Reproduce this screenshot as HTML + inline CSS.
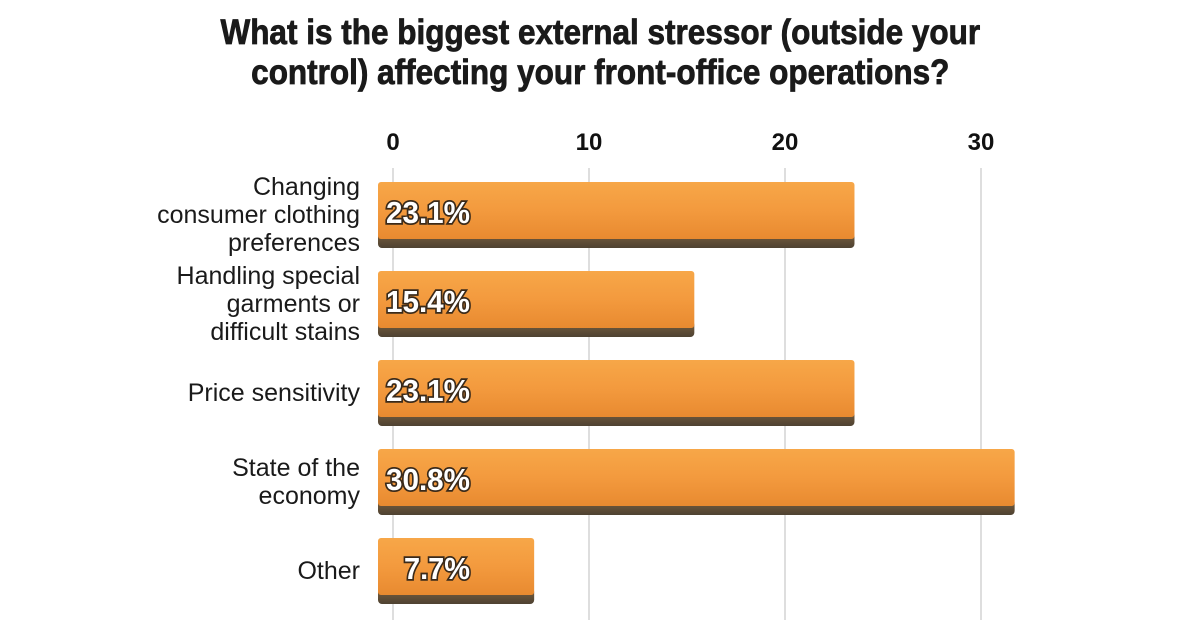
<!DOCTYPE html>
<html><head><meta charset="utf-8"><style>
body{margin:0;background:#fff;width:1200px;height:628px;overflow:hidden;position:relative;font-family:"Liberation Sans",sans-serif}
.title{position:absolute;left:0;width:1200px;top:13px;text-align:center;font-family:"Liberation Sans",sans-serif;font-weight:bold;font-size:35px;line-height:40px;color:#1a1a1a;transform:scaleX(0.9);transform-origin:603px 0;-webkit-text-stroke:0.8px #1a1a1a}
</style></head><body>
<div class="title">What is the biggest external stressor (outside your<br>control) affecting your front-office operations?</div>
<svg id="chart" width="1200" height="628" style="position:absolute;left:0;top:0"></svg>
<script>
const categories=[["Changing","consumer clothing","preferences"],["Handling special","garments or","difficult stains"],["Price sensitivity"],["State of the","economy"],["Other"]];
const values=[23.1,15.4,23.1,30.8,7.7];
const ticks=[0,10,20,30];
const NS="http://www.w3.org/2000/svg";
const svg=document.getElementById('chart');
function ax(v){return 393+19.6*v;}
function bx(v){return 374+20.8*v;}
function mk(t,a){const e=document.createElementNS(NS,t);for(const k in a)e.setAttribute(k,a[k]);svg.appendChild(e);return e;}
const defs=mk('defs',{});
defs.innerHTML='<linearGradient id="og" x1="0" y1="0" x2="0" y2="1"><stop offset="0" stop-color="#f7a748"/><stop offset="0.5" stop-color="#f39a3e"/><stop offset="1" stop-color="#e88a30"/></linearGradient><linearGradient id="sg" x1="0" y1="0" x2="0" y2="1"><stop offset="0" stop-color="#7a5f3e"/><stop offset="1" stop-color="#4e4232"/></linearGradient>';
ticks.forEach(t=>{
 const g=mk('line',{x1:ax(t),x2:ax(t),y1:168,y2:620,stroke:'#d4d4d4','stroke-width':1.5});
 
 const tx=mk('text',{x:ax(t),y:150,'text-anchor':'middle','font-size':24,'font-weight':'bold',fill:'#111'});
 tx.textContent=t;
 
 
});
values.forEach((v,i)=>{
 const y=182+89*i, x0=378, x1=bx(v);
 const s=mk('rect',{x:x0,y:y+50,width:x1-x0,height:16,rx:4,fill:'url(#sg)'});
 
 
 const r=mk('rect',{x:x0,y:y,width:x1-x0,height:57,rx:3,fill:'url(#og)'});
 
 
 const txt=v.toFixed(1)+'%';
 const lb=mk('text',{x:470,y:y+41,'text-anchor':'end','font-size':31,'font-weight':'bold',fill:'#fff',stroke:'#3a2a1a','stroke-width':3.5,'paint-order':'stroke',textLength:(txt.length===5?84:66),lengthAdjust:'spacingAndGlyphs'});
 lb.textContent=txt;
 
 
 const lines=categories[i], cy=y+33, lh=28;
 lines.forEach((ln,j)=>{
  const t=mk('text',{x:360,y:cy+(j-(lines.length-1)/2)*lh+8,'text-anchor':'end','font-size':25,fill:'#1a1a1a'});
  t.textContent=ln;
  
  
 });
});
</script>
</body></html>
